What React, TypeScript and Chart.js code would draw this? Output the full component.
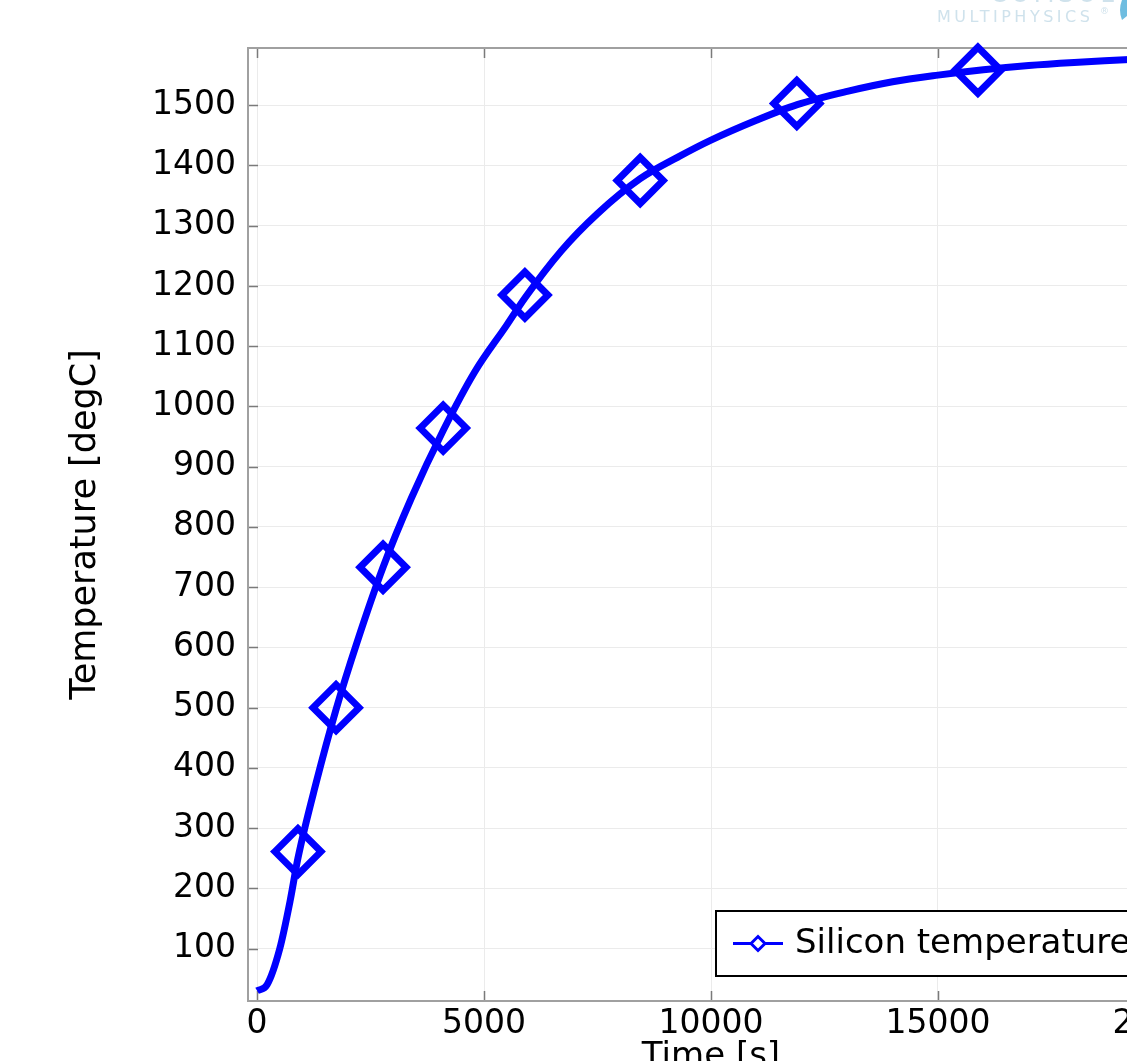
import React, { useEffect, useRef } from 'react';
import { Chart, registerables } from 'chart.js';

Chart.register(...registerables);

// ---- data ----
const lineTime = [0, 220, 500, 730, 900, 1300, 1740, 2200, 2775, 3400, 4100, 4800, 5500, 5900, 6700, 7500, 8440, 9300, 10000, 11000, 11900, 13000, 14000, 15000, 16000, 17000, 18000, 19000, 20000];
const lineTemp = [30, 40, 100, 180, 250, 375, 497, 608, 733, 848, 960, 1058, 1135, 1180, 1258, 1320, 1378, 1415, 1442, 1475, 1501, 1523, 1539, 1550, 1559, 1566, 1571, 1575, 1579];
const markerTime = [900, 1740, 2775, 4100, 5900, 8440, 11890, 15880];
const markerTemp = [261, 500, 733, 964, 1185, 1375, 1503, 1558];
const xTickValues = [0, 5000, 10000, 15000, 20000];
const yTickValues = [100, 200, 300, 400, 500, 600, 700, 800, 900, 1000, 1100, 1200, 1300, 1400, 1500];
const xRange = [-200, 20200];
const yRange = [13, 1595];
const seriesName = 'Silicon temperature';
const xTitle = 'Time [s]';
const yTitle = 'Temperature [degC]';

const BLUE = '#0000ff';
const FONT = '"DejaVu Sans", sans-serif';

const framePlugin = {
  id: 'frame',
  beforeDatasetsDraw(chart: any) {
    const { ctx, chartArea: a, scales } = chart;
    ctx.save();
    // inward ticks
    ctx.strokeStyle = '#7a7a7a';
    ctx.lineWidth = 1.5;
    const tl = 10;
    xTickValues.forEach((v) => {
      const x = Math.round(scales.x.getPixelForValue(v)) + 0.5;
      ctx.beginPath();
      ctx.moveTo(x, a.bottom);
      ctx.lineTo(x, a.bottom - tl);
      ctx.moveTo(x, a.top);
      ctx.lineTo(x, a.top + tl);
      ctx.stroke();
    });
    yTickValues.forEach((v) => {
      const y = Math.round(scales.y.getPixelForValue(v)) + 0.5;
      ctx.beginPath();
      ctx.moveTo(a.left, y);
      ctx.lineTo(a.left + tl, y);
      ctx.moveTo(a.right, y);
      ctx.lineTo(a.right - tl, y);
      ctx.stroke();
    });
    // frame
    ctx.strokeStyle = '#a0a0a0';
    ctx.lineWidth = 2;
    ctx.strokeRect(a.left, a.top, a.right - a.left, a.bottom - a.top);
    ctx.restore();
  },
  afterDraw(chart: any) {
    const { ctx, chartArea: a } = chart;
    ctx.save();
    // legend
    const left = 716;
    const right = a.right - 14;
    const bottom = a.bottom - 25;
    const h = 65;
    const w = right - left;
    const top = bottom - h;
    ctx.fillStyle = '#ffffff';
    ctx.fillRect(left, top, w, h);
    ctx.strokeStyle = '#000000';
    ctx.lineWidth = 2;
    ctx.strokeRect(left, top, w, h);
    const cy = top + h / 2;
    ctx.strokeStyle = BLUE;
    ctx.lineWidth = 3;
    ctx.beginPath();
    ctx.moveTo(left + 17, cy);
    ctx.lineTo(left + 67, cy);
    ctx.stroke();
    const mx = left + 42;
    ctx.beginPath();
    ctx.moveTo(mx - 7, cy);
    ctx.lineTo(mx, cy - 7);
    ctx.lineTo(mx + 7, cy);
    ctx.lineTo(mx, cy + 7);
    ctx.closePath();
    ctx.fillStyle = '#ffffff';
    ctx.fill();
    ctx.stroke();
    ctx.fillStyle = '#000000';
    ctx.font = '34px ' + FONT;
    ctx.textBaseline = 'middle';
    ctx.textAlign = 'left';
    ctx.fillText(seriesName, left + 79, cy + 1);

    // logo (partial, top right)
    ctx.fillStyle = '#cfe2ec';
    ctx.font = '16px ' + FONT;
    ctx.textBaseline = 'alphabetic';
    (ctx as any).letterSpacing = '3.5px';
    ctx.fillText('MULTIPHYSICS', 937, 22);
    ctx.font = '9px ' + FONT;
    (ctx as any).letterSpacing = '0px';
    ctx.fillText('®', 1100, 14);
    ctx.font = '24px ' + FONT;
    (ctx as any).letterSpacing = '4px';
    ctx.fillText('COMSOL', 990, 2);
    (ctx as any).letterSpacing = '0px';
    ctx.fillStyle = '#6fbde0';
    ctx.beginPath();
    ctx.moveTo(1122, 0);
    ctx.quadraticCurveTo(1118, 10, 1122, 20);
    ctx.lineTo(1127, 16);
    ctx.lineTo(1127, 0);
    ctx.closePath();
    ctx.fill();
    ctx.restore();
  },
};

export default function App() {
  const ref = useRef<HTMLCanvasElement | null>(null);
  useEffect(() => {
    if (!ref.current) return;
    const chart = new Chart(ref.current, {
      type: 'line',
      data: {
        datasets: [
          {
            label: seriesName,
            data: lineTime.map((t, i) => ({ x: t, y: lineTemp[i] })),
            borderColor: BLUE,
            borderWidth: 7,
            pointRadius: 0,
            fill: false,
            cubicInterpolationMode: 'monotone',
          },
          {
            label: seriesName + ' markers',
            data: markerTime.map((t, i) => ({ x: t, y: markerTemp[i] })),
            showLine: false,
            borderColor: BLUE,
            backgroundColor: 'rgba(0,0,0,0)',
            pointStyle: 'rectRot',
            pointRadius: 23,
            pointBorderWidth: 7,
            clip: false,
          },
        ],
      },
      options: {
        animation: false,
        responsive: false,
        events: [],
        layout: { padding: { left: 0, top: 48, right: 126, bottom: 0 } },
        plugins: { legend: { display: false }, tooltip: { enabled: false } },
        scales: {
          x: {
            type: 'linear',
            min: xRange[0],
            max: xRange[1],
            afterFit: (s: any) => { s.height = 99; },
            afterBuildTicks: (s: any) => { s.ticks = xTickValues.map((v) => ({ value: v })); },
            ticks: {
              includeBounds: false,
              color: '#000',
              font: { family: FONT, size: 33 },
              padding: 4,
              maxRotation: 0,
              callback: (v: any) => String(v),
            },
            grid: { color: '#ebebeb', lineWidth: 1, drawTicks: false },
            border: { display: false },
            title: {
              display: true,
              text: xTitle,
              color: '#000',
              font: { family: FONT, size: 34 },
              padding: { top: 0, bottom: 22 },
            },
          },
          y: {
            type: 'linear',
            min: yRange[0],
            max: yRange[1],
            afterFit: (s: any) => { s.width = 248; },
            afterBuildTicks: (s: any) => { s.ticks = yTickValues.map((v) => ({ value: v })); },
            ticks: {
              includeBounds: false,
              color: '#000',
              font: { family: FONT, size: 33 },
              padding: 12,
              callback: (v: any) => String(v),
            },
            grid: { color: '#ebebeb', lineWidth: 1, drawTicks: false },
            border: { display: false },
            title: {
              display: true,
              text: yTitle,
              color: '#000',
              font: { family: FONT, size: 35 },
              padding: { top: 65, bottom: 0 },
            },
          },
        },
      },
      plugins: [framePlugin],
    } as any);
    return () => chart.destroy();
  }, []);

  return (
    <div style={{ position: 'absolute', left: 0, top: 0, width: 1127, height: 1061, overflow: 'hidden', background: '#fff' }}>
      <canvas ref={ref} width={1300} height={1100} style={{ width: 1300, height: 1100, display: 'block' }} />
    </div>
  );
}
